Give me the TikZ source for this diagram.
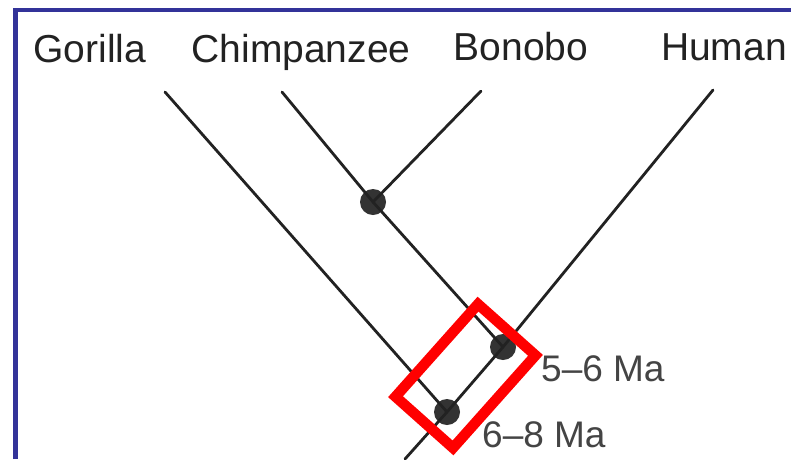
\documentclass[tikz,border=0pt]{standalone}
\usepackage{fontspec}
\setmainfont{Liberation Sans}
\usetikzlibrary{positioning}
\definecolor{framecolor}{HTML}{333399}
\definecolor{branchcolor}{HTML}{222222}
\definecolor{dotcolor}{HTML}{333333}
\definecolor{agecolor}{HTML}{444444}
\definecolor{boxred}{HTML}{FF0000}

\begin{document}
\begin{tikzpicture}[x=1pt, y=-1pt,
  species/.style={anchor=base, inner sep=0pt, text=branchcolor, font=\fontsize{39}{42}\selectfont},
  age/.style={anchor=base west, inner sep=0pt, text=agecolor, font=\fontsize{37}{40}\selectfont},
  branch/.style={draw=branchcolor, line width=2.8pt, line cap=round},
  split/.style={circle, fill=dotcolor, minimum size=26pt, inner sep=0pt},
  highlight/.style={rectangle, draw=boxred, line width=10.5pt, minimum width=124pt, minimum height=77pt, inner sep=0pt}]

\useasboundingbox (0,0) rectangle (791,459);
\fill[white] (0,0) rectangle (791,459);

% FRAME
\draw[framecolor, line width=4.5pt] (15.5,459) -- (15.5,10) -- (791,10);

% SPECIES
\node [species] (gorilla) at (90,62) {Gorilla};
\node [species] (chimpanzee) at (301,62) {Chimpanzee};
\node [species] (bonobo) at (521,60) {Bonobo};
\node [species] (human) at (724,60) {Human};

% BRANCH TIPS
\coordinate (gorilla-tip) at (165,92);
\coordinate (chimpanzee-tip) at (282,92);
\coordinate (bonobo-tip) at (481,91);
\coordinate (human-tip) at (713,90);
\coordinate (root) at (405,459);

% SPLITS
\node [split] (pan-split) at (373,202) {};
\node [split] (human-split) at (503,347) {};
\node [split] (gorilla-split) at (447,412) {};

% BRANCHES
\draw [branch] (gorilla-tip) -- (gorilla-split.center);
\draw [branch] (chimpanzee-tip) -- (pan-split.center) -- (human-split.center);
\draw [branch] (bonobo-tip) -- (pan-split.center);
\draw [branch] (human-tip) -- (human-split.center) -- (gorilla-split.center) -- (root);

% AGES
\node [age] (age-human) at (541,381) {5–6 Ma};
\node [age] (age-gorilla) at (482,447) {6–8 Ma};

% HIGHLIGHT
\node [highlight, rotate=48.3] (box) at (465.5,376) {};

\end{tikzpicture}
\end{document}
